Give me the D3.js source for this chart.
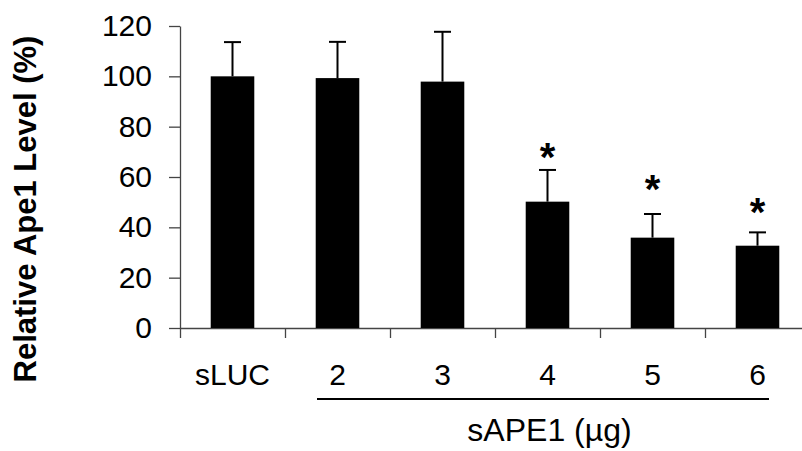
<!DOCTYPE html>
<html>
<head>
<meta charset="utf-8">
<script src="https://cdn.jsdelivr.net/npm/d3@7"></script>
<style>
  html, body { margin: 0; padding: 0; background: #fff; }
  svg { display: block; }
  text { font-family: Arial, "Liberation Sans", sans-serif; fill: #000; }
</style>
</head>
<body>
<svg id="chart" width="802" height="451"></svg>
<script>
// ---- data ----
const categories = ["sLUC", "2", "3", "4", "5", "6"];
const values = [100, 99.3, 97.9, 50.2, 35.9, 32.7];
const errors = [13.6, 14.4, 19.8, 12.6, 9.4, 5.3];
const significant = [false, false, false, true, true, true];
const starLevels = [null, null, null, 71.6, 58.8, 49.7];
const yTicks = [0, 20, 40, 60, 80, 100, 120];
const yTitle = "Relative Ape1 Level (%)";
const xTitle = "sAPE1 (\u00b5g)";
const groupedCategories = ["2", "3", "4", "5", "6"];

(function () {
// ---- layout ----
const svg = d3.select("#chart");
const mLeft = 180, mRight = 810, mTop = 26, mBottom = 328;

const x = d3.scaleBand().domain(categories).range([mLeft, mRight]).padding(0);
const xEdge = d3.scaleLinear().domain([0, categories.length]).range([mLeft, mRight]);
const y = d3.scaleLinear().domain([0, 120]).range([mBottom, mTop]);
const barW = x.step() * 0.415;

// y axis
const yAxis = svg.append("g")
  .attr("transform", `translate(${mLeft},0)`)
  .call(d3.axisLeft(y).tickValues(yTicks).tickSize(11).tickSizeOuter(0).tickPadding(17));
yAxis.select(".domain").attr("stroke", "#444").attr("stroke-width", 1.3);
yAxis.selectAll(".tick line").attr("stroke", "#444").attr("stroke-width", 1.3);
yAxis.selectAll(".tick text").style("font-size", "30px").attr("fill", "#000")
  .style("font-family", "Arial, 'Liberation Sans', sans-serif");

// x axis (ticks at category boundaries)
const xAxis = svg.append("g")
  .attr("transform", `translate(0,${mBottom})`)
  .call(d3.axisBottom(xEdge).tickValues(d3.range(categories.length + 1)).tickSize(10).tickSizeOuter(0).tickFormat(""));
xAxis.select(".domain").attr("stroke", "#444").attr("stroke-width", 1.3);
xAxis.selectAll(".tick line").attr("stroke", "#444").attr("stroke-width", 1.3);

// bars
svg.append("g").selectAll("rect")
  .data(values)
  .join("rect")
  .attr("x", (d, i) => x(categories[i]) + x.bandwidth() / 2 - barW / 2)
  .attr("y", d => y(d))
  .attr("width", barW)
  .attr("height", d => y(0) - y(d))
  .attr("fill", "#000");

// error bars (upper only)
const eg = svg.append("g").attr("stroke", "#000").attr("stroke-width", 2);
values.forEach((v, i) => {
  const cx = x(categories[i]) + x.bandwidth() / 2;
  eg.append("line").attr("x1", cx).attr("x2", cx).attr("y1", y(v)).attr("y2", y(v + errors[i]));
  eg.append("line").attr("x1", cx - 8.5).attr("x2", cx + 8.5).attr("y1", y(v + errors[i])).attr("y2", y(v + errors[i]));
});

// significance stars
const starFs = 40;
svg.append("g").selectAll("text")
  .data(categories.filter((c, i) => significant[i]))
  .join("text")
  .attr("x", c => x(c) + x.bandwidth() / 2)
  .attr("y", c => y(starLevels[categories.indexOf(c)]) + starFs * 0.57)
  .attr("text-anchor", "middle")
  .style("font-size", starFs + "px")
  .style("font-weight", "bold")
  .text("*");

// category labels
svg.append("g").selectAll("text")
  .data(categories)
  .join("text")
  .attr("x", c => x(c) + x.bandwidth() / 2)
  .attr("y", 385)
  .attr("text-anchor", "middle")
  .style("font-size", "30px")
  .text(c => c);

// grouping line under sAPE1 doses
const gx0 = x(groupedCategories[0]) + 32;
const gx1 = x(groupedCategories[groupedCategories.length - 1]) + x.bandwidth() - 41;
svg.append("line")
  .attr("x1", gx0).attr("x2", gx1)
  .attr("y1", 399).attr("y2", 399)
  .attr("stroke", "#000").attr("stroke-width", 2);

// x title
const groupCenter = (x(groupedCategories[0]) + x(groupedCategories[groupedCategories.length - 1]) + x.bandwidth()) / 2;
svg.append("text")
  .attr("x", groupCenter + 2)
  .attr("y", 441)
  .attr("text-anchor", "middle")
  .style("font-size", "32px")
  .text(xTitle);

// y title
svg.append("text")
  .attr("transform", `translate(36,209) rotate(-90)`)
  .attr("text-anchor", "middle")
  .style("font-size", "31px")
  .style("font-weight", "bold")
  .text(yTitle);
})();
</script>
</body>
</html>
